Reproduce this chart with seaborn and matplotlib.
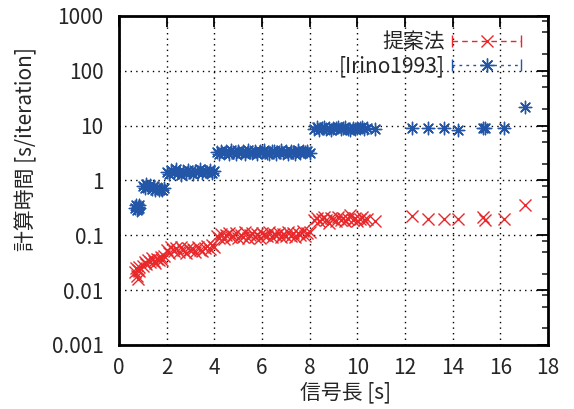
import pandas as pd
import seaborn as sns
import matplotlib.pyplot as plt
from matplotlib.lines import Line2D
from matplotlib.legend_handler import HandlerLine2D, HandlerTuple
from matplotlib.ticker import LogLocator, FixedLocator, FixedFormatter, NullFormatter

# signal length [s]
lengths = [
    0.68, 0.72, 0.75, 0.78, 0.80, 0.83, 0.86,
    1.00, 1.08, 1.15, 1.22, 1.30, 1.38, 1.45, 1.52, 1.60, 1.68, 1.75, 1.82, 1.90,
    2.0, 2.1, 2.2, 2.3, 2.4, 2.5, 2.6, 2.7, 2.8, 2.9, 3.0, 3.1, 3.2, 3.3, 3.4, 3.5,
    3.6, 3.7, 3.8, 3.9, 4.0,
    4.1, 4.2, 4.3, 4.4, 4.5, 4.6, 4.7, 4.8, 4.9, 5.0, 5.1, 5.2, 5.3, 5.4, 5.5, 5.6,
    5.7, 5.8, 5.9, 6.0, 6.1, 6.2, 6.3, 6.4, 6.5, 6.6, 6.7, 6.8, 6.9, 7.0, 7.1, 7.2,
    7.3, 7.4, 7.5, 7.6, 7.7, 7.8, 7.9, 8.0,
    8.2, 8.3, 8.4, 8.5, 8.6, 8.7, 8.8, 8.9, 9.0, 9.1, 9.2, 9.3, 9.4, 9.5, 9.6, 9.7,
    9.8, 9.9, 10.0, 10.1, 10.2, 10.3, 10.4, 10.75,
    12.28, 12.98, 13.64, 14.24, 15.26, 15.36, 16.17, 17.04,
]

# computation time [s/iteration], proposed method
t_proposed = [
    0.021, 0.025, 0.018, 0.023, 0.016, 0.022, 0.026,
    0.028, 0.033, 0.030, 0.036, 0.032, 0.038, 0.034, 0.031, 0.037, 0.035, 0.040, 0.036, 0.042,
    0.055, 0.048, 0.060, 0.052, 0.058, 0.050, 0.062, 0.054, 0.047, 0.059, 0.053, 0.057,
    0.049, 0.061, 0.055, 0.051, 0.058, 0.063, 0.056, 0.066, 0.060,
    0.098, 0.090, 0.106, 0.086, 0.101, 0.111, 0.092, 0.099, 0.108, 0.088,
    0.103, 0.095, 0.113, 0.091, 0.100, 0.109, 0.094, 0.105, 0.089, 0.110,
    0.102, 0.096, 0.114, 0.092, 0.107, 0.100, 0.112, 0.095, 0.105, 0.099,
    0.116, 0.097, 0.108, 0.092, 0.111, 0.102, 0.118, 0.096, 0.109, 0.113,
    0.19, 0.21, 0.18, 0.20, 0.22, 0.19, 0.17, 0.21, 0.20, 0.18, 0.22, 0.19,
    0.21, 0.18, 0.20, 0.23, 0.19, 0.21, 0.18, 0.20, 0.22, 0.19, 0.20, 0.18,
    0.225, 0.195, 0.20, 0.195, 0.22, 0.19, 0.20, 0.36,
]

# computation time [s/iteration], Irino 1993
t_irino = [
    0.31, 0.35, 0.29, 0.33, 0.30, 0.36, 0.32,
    0.80, 0.72, 0.85, 0.76, 0.82, 0.70, 0.78, 0.68, 0.74, 0.66, 0.71, 0.67, 0.73,
    1.45, 1.30, 1.55, 1.38, 1.62, 1.42, 1.28, 1.50, 1.36, 1.58, 1.44, 1.32,
    1.52, 1.40, 1.60, 1.35, 1.48, 1.42, 1.55, 1.38, 1.50,
    3.3, 3.1, 3.5, 3.2, 3.4, 3.0, 3.6, 3.3, 3.1, 3.5,
    3.2, 3.4, 3.0, 3.6, 3.3, 3.2, 3.5, 3.1, 3.4, 3.3,
    3.6, 3.2, 3.0, 3.4, 3.5, 3.1, 3.3, 3.6, 3.2, 3.4,
    3.0, 3.5, 3.3, 3.1, 3.6, 3.2, 3.4, 3.3, 3.5, 3.2,
    8.8, 9.3, 8.5, 9.0, 9.5, 8.7, 9.1, 8.4, 9.2, 8.9, 9.4, 8.6,
    9.0, 9.3, 8.8, 8.5, 9.1, 8.7, 9.2, 8.9, 9.4, 8.6, 9.0, 8.8,
    9.2, 8.9, 8.9, 8.3, 9.2, 9.0, 8.9, 21.6,
]

series_labels = ["提案法", "[Irino1993]"]
yticks = [0.001, 0.01, 0.1, 1, 10, 100, 1000]
ytick_labels = ["0.001", "0.01", "0.1", "1", "10", "100", "1000"]
xticks = [0, 2, 4, 6, 8, 10, 12, 14, 16, 18]

red = "#e8282a"
blue = "#2356a6"
asterisk = (8, 2, 0)

sns.set_style("white")
plt.rcParams["font.family"] = ["Noto Sans CJK JP", "DejaVu Sans"]

df = pd.DataFrame({"length": lengths, "proposed": t_proposed, "irino": t_irino})

fig = plt.figure(figsize=(5.74, 4.09), dpi=100)
ax = fig.add_axes([0.2073, 0.1565, 0.7474, 0.8044])

sns.scatterplot(data=df, x="length", y="proposed", marker="x", s=75, color=red,
                linewidth=1.0, legend=False, ax=ax, zorder=3)
sns.scatterplot(data=df, x="length", y="irino", marker=asterisk, s=80, color=blue,
                linewidth=1.0, legend=False, ax=ax, zorder=3)

ax.set_yscale("log")
ax.set_xlim(0, 18)
ax.set_ylim(0.001, 1000)
ax.yaxis.set_major_locator(FixedLocator(yticks))
ax.yaxis.set_major_formatter(FixedFormatter(ytick_labels))
ax.yaxis.set_minor_locator(LogLocator(base=10, subs=(2, 5, 8)))
ax.yaxis.set_minor_formatter(NullFormatter())
ax.set_xticks(xticks)

ax.tick_params(which="major", direction="in", length=8, width=1.3, top=True, right=True,
               labelsize=15, pad=9, color="black")
ax.tick_params(which="minor", direction="in", length=4, width=1.2, top=True, right=True)
ax.tick_params(axis="y", pad=11)
for s in ax.spines.values():
    s.set_linewidth(2)
    s.set_color("black")

ax.grid(True, which="major", color="black", linestyle=(0, (1, 3)), linewidth=1)
ax.set_axisbelow(True)

ax.set_xlabel("信号長 [s]", fontsize=15)
ax.set_ylabel("計算時間 [s/iteration]", fontsize=15)
ax.xaxis.set_label_coords(0.527, -0.11)
ax.yaxis.set_label_coords(-0.19, 0.596)

# gnuplot style key
cap_r = Line2D([], [], color=red, lw=1, ls=(0, (4, 3)), marker="|", ms=8, mew=1)
mk_r = Line2D([], [], color=red, ls="none", marker="x", ms=9, mew=1)
cap_b = Line2D([], [], color=blue, lw=1, ls=(0, (2, 3)), marker="|", ms=8, mew=1)
mk_b = Line2D([], [], color=blue, ls="none", marker=asterisk, ms=10, mew=1)
hmap = {
    tuple: HandlerTuple(ndivide=1),
    cap_r: HandlerLine2D(marker_pad=0, numpoints=2),
    cap_b: HandlerLine2D(marker_pad=0, numpoints=2),
    mk_r: HandlerLine2D(numpoints=1),
    mk_b: HandlerLine2D(numpoints=1),
}
ax.legend([(cap_r, mk_r), (cap_b, mk_b)], series_labels, handler_map=hmap,
          loc="upper right", bbox_to_anchor=(0.937, 0.955), frameon=False,
          markerfirst=False, fontsize=15, handlelength=3.3, handletextpad=0.35,
          borderpad=0, borderaxespad=0, labelspacing=0.1)

fig.savefig("out.png", dpi=100)
